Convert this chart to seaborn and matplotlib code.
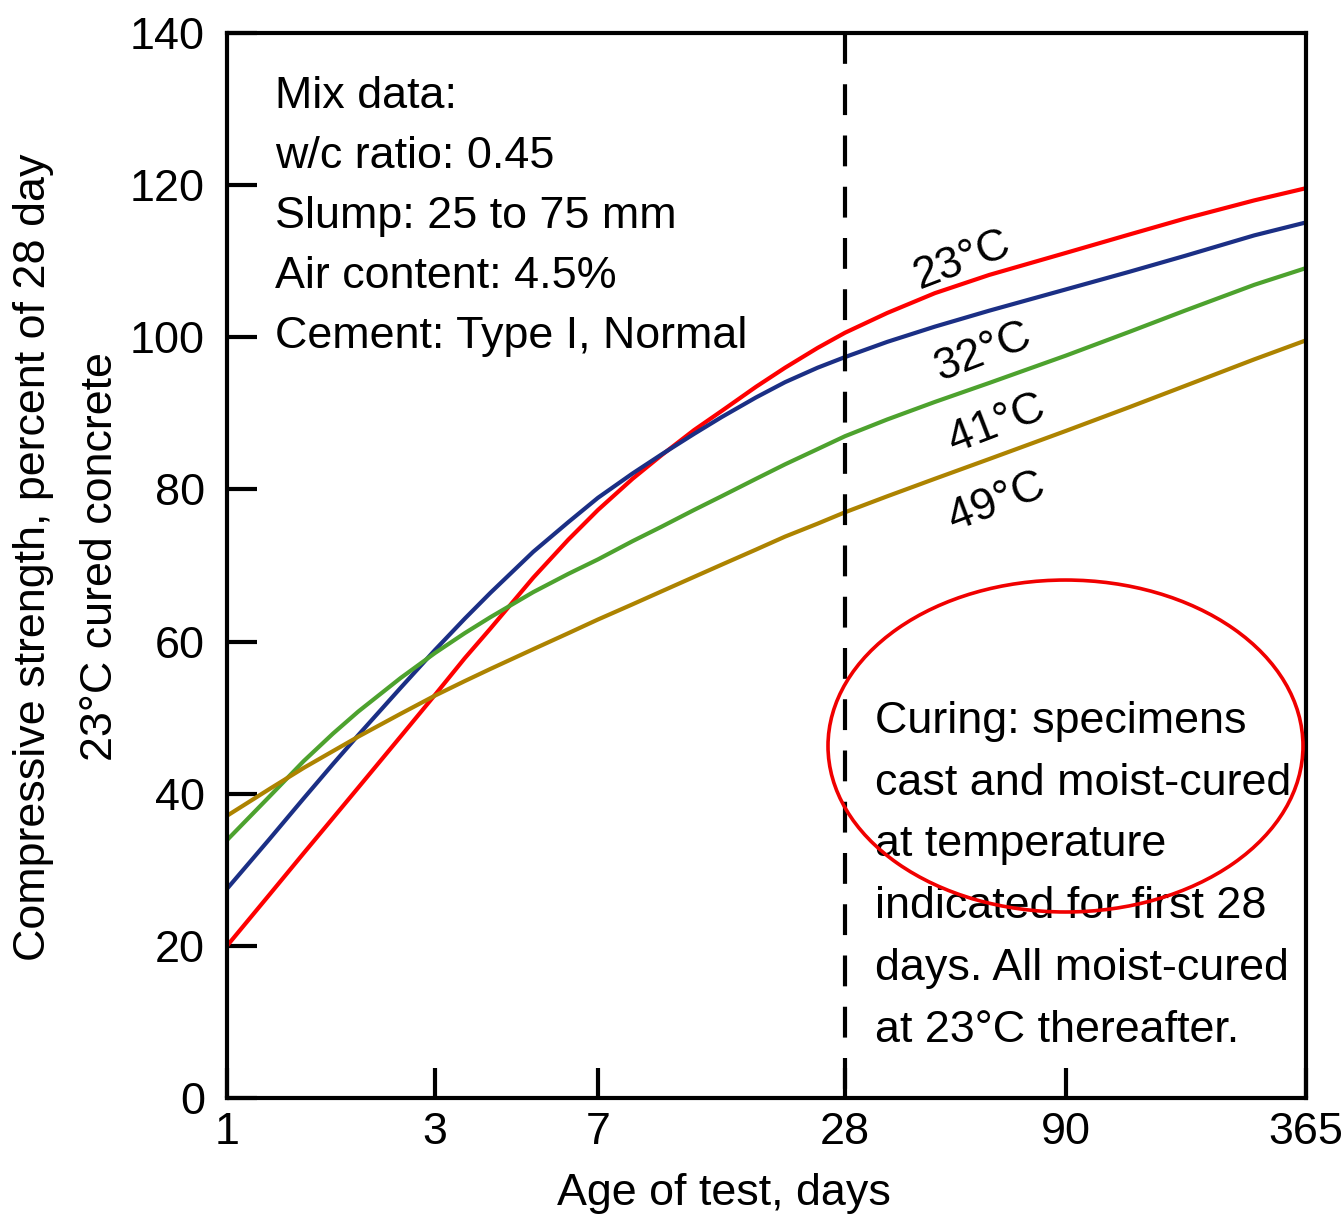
import numpy as np
import pandas as pd
import matplotlib
matplotlib.use("Agg")
import matplotlib.pyplot as plt
from matplotlib.patches import Ellipse
from matplotlib.ticker import NullLocator
import seaborn as sns

# ---- data -------------------------------------------------------------
age_days = [1, 1.25, 1.5, 1.75, 2, 2.5, 3, 3.5, 4, 5, 6, 7, 8.5, 10, 12, 14,
            17, 20, 24, 28, 35, 45, 60, 90, 130, 180, 270, 365]

strength_23c = [20.0, 26.7, 32.2, 36.8, 40.8, 47.5, 53.0, 57.8, 61.7, 68.4,
                73.4, 77.3, 81.4, 84.5, 87.8, 90.3, 93.5, 96.0, 98.6, 100.6,
                103.2, 105.8, 108.2, 111.1, 113.5, 115.6, 118.0, 119.6]
strength_32c = [27.5, 34.0, 39.4, 43.9, 47.7, 53.9, 58.9, 63.0, 66.4, 71.8,
                75.7, 78.9, 82.1, 84.6, 87.3, 89.5, 92.1, 94.1, 96.0, 97.4,
                99.4, 101.4, 103.5, 106.3, 108.6, 110.7, 113.4, 115.1]
strength_41c = [33.9, 39.6, 44.3, 47.9, 50.8, 55.2, 58.5, 61.1, 63.2, 66.5,
                68.9, 70.8, 73.2, 75.1, 77.3, 79.1, 81.4, 83.3, 85.3, 87.0,
                89.2, 91.5, 94.0, 97.6, 100.7, 103.5, 106.9, 109.1]
strength_49c = [37.1, 40.6, 43.4, 45.6, 47.5, 50.5, 52.9, 54.8, 56.4, 59.0,
                61.1, 62.9, 64.9, 66.6, 68.5, 70.1, 72.1, 73.8, 75.5, 77.0,
                79.1, 81.4, 84.0, 87.7, 90.8, 93.6, 97.1, 99.6]

temperatures = ["23°C", "32°C", "41°C", "49°C"]
series = [strength_23c, strength_32c, strength_41c, strength_49c]

x_ticks = [1, 3, 7, 28, 90, 365]
y_ticks = [0, 20, 40, 60, 80, 100, 120, 140]
switch_day = 28

mix_lines = ["Mix data:", "w/c ratio: 0.45", "Slump: 25 to 75 mm",
             "Air content: 4.5%", "Cement: Type I, Normal"]
curing_lines = ["Curing: specimens", "cast and moist-cured", "at temperature",
                "indicated for first 28", "days. All moist-cured",
                "at 23°C thereafter."]
x_label = "Age of test, days"
y_label = "Compressive strength, percent of 28 day\n23°C cured concrete"

# ---- styling ----------------------------------------------------------
palette = {"23°C": "#fe0000", "32°C": "#1b2f85",
           "41°C": "#4da22e", "49°C": "#ad8300"}
FS = 32.3

sns.set_theme(style="white")
plt.rcParams["font.family"] = ["Liberation Sans", "DejaVu Sans"]
plt.rcParams["axes.edgecolor"] = "black"
plt.rcParams["axes.linewidth"] = 3

# Age axis: logarithmic, with the ruled spacing of this graph sheet
AXIS_FRAC = np.array([0.0, 0.1928, 0.3438, 0.5728, 0.7776, 1.0])
LOG_T = np.log10(np.array(x_ticks, dtype=float))
S0 = (AXIS_FRAC[1] - AXIS_FRAC[0]) / (LOG_T[1] - LOG_T[0])
S1 = (AXIS_FRAC[-1] - AXIS_FRAC[-2]) / (LOG_T[-1] - LOG_T[-2])


def age_forward(x):
    lx = np.log10(np.clip(np.asarray(x, dtype=float), 1e-12, None))
    out = np.interp(lx, LOG_T, AXIS_FRAC)
    out = np.where(lx < LOG_T[0], AXIS_FRAC[0] + (lx - LOG_T[0]) * S0, out)
    out = np.where(lx > LOG_T[-1], AXIS_FRAC[-1] + (lx - LOG_T[-1]) * S1, out)
    return out


def age_inverse(u):
    u = np.asarray(u, dtype=float)
    lx = np.interp(u, AXIS_FRAC, LOG_T)
    lx = np.where(u < AXIS_FRAC[0], LOG_T[0] + (u - AXIS_FRAC[0]) / S0, lx)
    lx = np.where(u > AXIS_FRAC[-1], LOG_T[-1] + (u - AXIS_FRAC[-1]) / S1, lx)
    return 10 ** lx


df = pd.DataFrame({
    "age": np.tile(age_days, len(temperatures)),
    "strength": np.concatenate(series),
    "temp": np.repeat(temperatures, len(age_days)),
})

fig = plt.figure(figsize=(13.42, 12.19), dpi=100)
fig.patch.set_facecolor("white")
ax = fig.add_axes([227 / 1342, 121 / 1219, 1079 / 1342, 1065 / 1219])
ax.set_xscale("function", functions=(age_forward, age_inverse))

sns.lineplot(data=df, x="age", y="strength", hue="temp", hue_order=temperatures,
             palette=palette, linewidth=3, legend=False, estimator=None,
             sort=True, ax=ax, zorder=2)
for ln in ax.lines:
    ln.set_solid_joinstyle("round")

# 28-day boundary
ax.plot([switch_day, switch_day], [y_ticks[-1], y_ticks[0]], color="black",
        lw=3, dashes=(7.4, 4.9), zorder=3, dash_capstyle="butt")

ax.set_xlim(x_ticks[0], x_ticks[-1])
ax.set_ylim(y_ticks[0], y_ticks[-1])
ax.set_xticks(x_ticks)
ax.set_xticklabels([str(t) for t in x_ticks])
ax.xaxis.set_minor_locator(NullLocator())
ax.set_yticks(y_ticks)
ax.set_yticklabels([str(t) for t in y_ticks])
ax.tick_params(axis="both", direction="in", length=21.6, width=3,
               color="black", labelsize=FS, labelcolor="black",
               top=False, right=False, bottom=True, left=True)
ax.tick_params(axis="x", pad=10)
ax.tick_params(axis="y", pad=16)
for sp in ax.spines.values():
    sp.set_linewidth(3)
    sp.set_color("black")
    sp.set_zorder(5)

ax.set_xlabel(x_label, fontsize=FS, color="black")
ax.xaxis.set_label_coords(0.4606, -0.090)
ax.xaxis.label.set_verticalalignment("center")
ax.set_ylabel(y_label, fontsize=FS, color="black", linespacing=1.8)
ax.yaxis.set_label_coords(-0.1483, 0.508)
ax.yaxis.label.set_verticalalignment("center")

# curve labels
label_pos = {"23°C": (0.682, 0.787), "32°C": (0.7007, 0.7005),
             "41°C": (0.7136, 0.633), "49°C": (0.7136, 0.5596)}
for t in temperatures:
    lx, ly = label_pos[t]
    ax.text(lx, ly, t, transform=ax.transAxes, fontsize=FS, rotation=21,
            ha="center", va="center", color="black", zorder=4)

# mix data block
for i, line in enumerate(mix_lines):
    ax.text(0.0445, 0.9293 - i * 0.05634, line, transform=ax.transAxes,
            fontsize=FS, ha="left", va="baseline", color="black", zorder=4)

# curing note
for i, line in enumerate(curing_lines):
    ax.text(0.6006, 0.3427 - i * 0.05793, line, transform=ax.transAxes,
            fontsize=FS, ha="left", va="baseline", color="black", zorder=4)

ax.add_patch(Ellipse((0.7771, 0.3305), 0.4402, 0.3117, transform=ax.transAxes,
                     fill=False, edgecolor="#f00000", lw=2.6, zorder=6,
                     clip_on=False))

fig.savefig("out.png", dpi=100, facecolor="white")
